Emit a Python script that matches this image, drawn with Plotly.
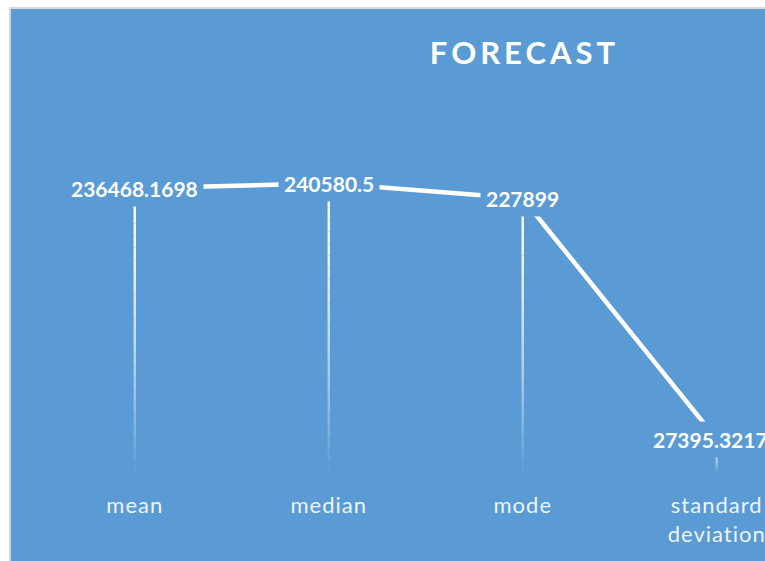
import plotly.graph_objects as go

categories = ["mean", "median", "mode", "standard<br>deviation"]
values = [236468.1698, 240580.5, 227899, 27395.3217]
labels = ["236468.1698", "240580.5", "227899", "27395.3217"]
title_text = "FORECAST"

BLUE = "#5B9BD5"
FONT = "Lato"

x_idx = list(range(len(categories)))

fig = go.Figure()

# gradient drop lines (white fading to transparent towards the axis)
N = 24
for i, v in zip(x_idx, values):
    for k in range(N):
        t0 = k / N
        t1 = (k + 1) / N
        alpha = max(0.0, 1 - ((t0 + t1) / 2) ** 1.6)
        fig.add_trace(go.Scatter(
            x=[i, i], y=[v * (1 - t0), v * (1 - t1)],
            mode="lines",
            line=dict(color=f"rgba(255,255,255,{alpha:.3f})", width=2.4),
            hoverinfo="skip", showlegend=False,
        ))

# main line
fig.add_trace(go.Scatter(
    x=x_idx, y=values, mode="lines",
    line=dict(color="white", width=4.5),
    hoverinfo="skip", showlegend=False,
))

# data labels with blue background
for i, v, lab in zip(x_idx, values, labels):
    fig.add_annotation(
        x=i, y=v, xref="x", yref="y", text=f"<b>{lab}</b>",
        showarrow=False, bgcolor=BLUE, borderpad=5,
        xshift=(-6 if i == len(categories) - 1 else 0),
        font=dict(family=FONT, size=21, color="white"),
    )

SP = '<span style="letter-spacing:1px">'
tick_text = [SP + c.replace("<br>", "</span><br>" + SP) + "</span>" for c in categories]

W, H = 765, 561
WP = 761
fig.update_layout(
    width=W, height=H,
    margin=dict(l=0, r=0, t=0, b=89, pad=0),
    paper_bgcolor="white",
    plot_bgcolor="rgba(0,0,0,0)",
    showlegend=False,
    title=dict(
        text=f'<b><span style="letter-spacing:4px">{title_text}</span></b>',
        x=530 / W, y=1 - 53 / H, xanchor="center", yanchor="middle",
        xref="paper", yref="container",
        font=dict(family=FONT, size=31, color="white"),
    ),
    xaxis=dict(
        range=[-135.5 / 195, -135.5 / 195 + WP / 195],
        tickvals=x_idx, ticktext=tick_text,
        showgrid=False, zeroline=False, showline=False, ticks="",
        tickfont=dict(family=FONT, size=22, color="rgba(255,255,255,0.92)"),
        ticklabelstandoff=18,
        ticklabeloverflow="allow",
        fixedrange=True,
    ),
    yaxis=dict(
        range=[0, 472 / 0.0012],
        showgrid=False, zeroline=False, showline=False,
        showticklabels=False, ticks="",
        fixedrange=True,
    ),
    shapes=[dict(
        type="rect", xref="paper", yref="paper",
        x0=10 / W, x1=1.2, y0=-89 / 472 - 0.2, y1=(472 - 8) / 472,
        fillcolor=BLUE, line=dict(color="#D9D9D9", width=2), layer="below",
    )],
)

fig.write_html(
    "out.html",
    config={"displayModeBar": False},
    post_script="document.body.style.margin='0px';document.body.style.overflow='hidden';",
)
